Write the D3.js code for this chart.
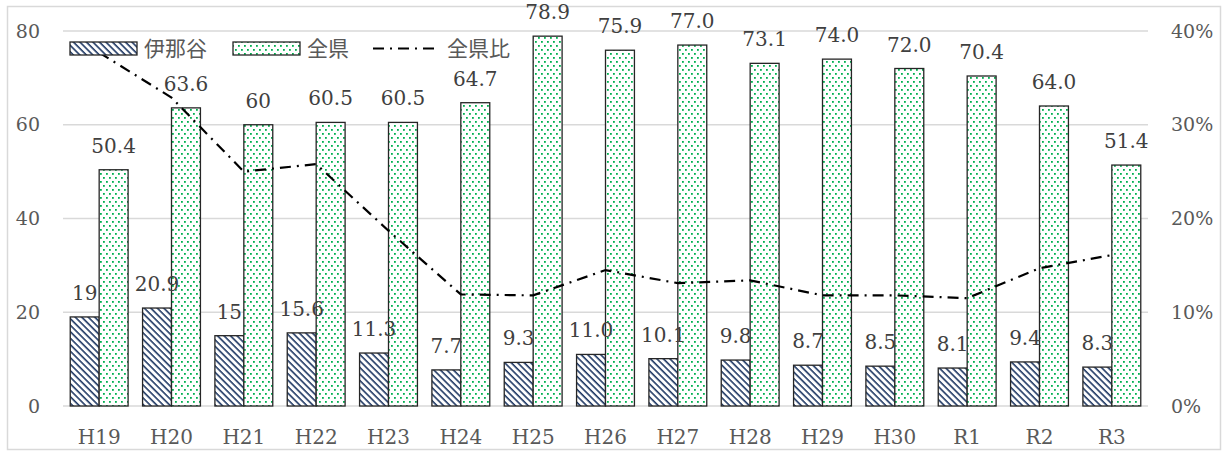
<!DOCTYPE html>
<html><head><meta charset="utf-8">
<script src="https://cdn.jsdelivr.net/npm/d3@7"></script>
<style>
html,body{margin:0;padding:0;background:#fff;}
svg text{font-family:"DejaVu Serif","Noto Sans CJK JP",serif;}
</style></head>
<body><svg id="c" width="1228" height="456"></svg>
<script>
const categories = ["H19","H20","H21","H22","H23","H24","H25","H26","H27","H28","H29","H30","R1","R2","R3"];
const inaValues = [19,20.9,15,15.6,11.3,7.7,9.3,11.0,10.1,9.8,8.7,8.5,8.1,9.4,8.3];
const inaLabels = ["19","20.9","15","15.6","11.3","7.7","9.3","11.0","10.1","9.8","8.7","8.5","8.1","9.4","8.3"];
const kenValues = [50.4,63.6,60,60.5,60.5,64.7,78.9,75.9,77.0,73.1,74.0,72.0,70.4,64.0,51.4];
const kenLabels = ["50.4","63.6","60","60.5","60.5","64.7","78.9","75.9","77.0","73.1","74.0","72.0","70.4","64.0","51.4"];
const ratioValues = [0.377,0.329,0.250,0.258,0.187,0.119,0.118,0.145,0.131,0.134,0.118,0.118,0.115,0.147,0.161];
const leftTicks = [0,20,40,60,80];
const rightTicks = [0,0.1,0.2,0.3,0.4];
const seriesNames = ["伊那谷","全県","全県比"];

const svg = d3.select("#c");
const M = {left:63, right:1148, top:31, bottom:406};

svg.append("rect").attr("x",7.5).attr("y",6.5).attr("width",1213).attr("height",443)
  .attr("fill","#fff").attr("stroke","#d9d9d9").attr("stroke-width",1.5);

const defs = svg.append("defs");
const hp = defs.append("pattern").attr("id","hatch").attr("patternUnits","userSpaceOnUse")
  .attr("width",6).attr("height",4.6).attr("patternTransform","rotate(45)");
hp.append("rect").attr("width",6).attr("height",4.6).attr("fill","#fff");
hp.append("rect").attr("y",0).attr("width",6).attr("height",1.6).attr("fill","#1F3864");
const dp = defs.append("pattern").attr("id","dots").attr("patternUnits","userSpaceOnUse")
  .attr("width",6).attr("height",8);
dp.append("rect").attr("width",6).attr("height",8).attr("fill","#fff");
dp.append("rect").attr("x",1).attr("y",1).attr("width",1.8).attr("height",1.8).attr("fill","#00B050");
dp.append("rect").attr("x",4).attr("y",5).attr("width",1.8).attr("height",1.8).attr("fill","#00B050");

const x0 = d3.scaleBand().domain(categories).range([M.left,M.right]).padding(0);
const groupW = x0.bandwidth()*0.8;
const x1 = d3.scaleBand().domain(["ina","ken"]).range([0,groupW]);
const y = d3.scaleLinear().domain([0,80]).range([M.bottom,M.top]);
const y2 = d3.scaleLinear().domain([0,0.4]).range([M.bottom,M.top]);

svg.append("g").selectAll("line").data(leftTicks).join("line")
  .attr("x1",M.left).attr("x2",M.right).attr("y1",d=>y(d)).attr("y2",d=>y(d))
  .attr("stroke","#d9d9d9").attr("stroke-width",1.5);

const ax = svg.append("g").attr("transform",`translate(${M.left},0)`)
  .call(d3.axisLeft(y).tickValues(leftTicks).tickSize(0).tickPadding(23));
ax.select(".domain").remove();
ax.selectAll("text").attr("fill","#595959").style("font-size","19px");

const ax2 = svg.append("g").attr("transform",`translate(${M.right},0)`)
  .call(d3.axisRight(y2).tickValues(rightTicks).tickSize(0).tickPadding(23).tickFormat(d3.format(".0%")));
ax2.select(".domain").remove();
ax2.selectAll("text").attr("fill","#595959").style("font-size","19px");

const ax3 = svg.append("g").attr("transform",`translate(0,${M.bottom})`)
  .call(d3.axisBottom(x0).tickSize(0).tickPadding(24));
ax3.select(".domain").remove();
ax3.selectAll("text").attr("fill","#595959").style("font-size","20px");

const off = (x0.bandwidth()-groupW)/2;
const g = svg.append("g");
g.selectAll("rect.ina").data(inaValues).join("rect").attr("class","ina")
  .attr("x",(d,i)=>x0(categories[i])+off+x1("ina")).attr("width",x1.bandwidth())
  .attr("y",d=>y(d)).attr("height",d=>y(0)-y(d))
  .attr("fill","url(#hatch)").attr("stroke","#262626").attr("stroke-width",1.3);
g.selectAll("rect.ken").data(kenValues).join("rect").attr("class","ken")
  .attr("x",(d,i)=>x0(categories[i])+off+x1("ken")).attr("width",x1.bandwidth())
  .attr("y",d=>y(d)).attr("height",d=>y(0)-y(d))
  .attr("fill","url(#dots)").attr("stroke","#262626").attr("stroke-width",1.3);

const line = d3.line().x((d,i)=>x0(categories[i])+x0.bandwidth()/2).y(d=>y2(d));
svg.append("path").datum(ratioValues).attr("d",line).attr("fill","none")
  .attr("stroke","#000").attr("stroke-width",2.2).attr("stroke-dasharray","11,6,2,6");

svg.append("g").selectAll("text").data(inaLabels).join("text")
  .attr("x",(d,i)=>x0(categories[i])+off+x1("ina")+x1.bandwidth()/2)
  .attr("y",(d,i)=>y(inaValues[i])-17).attr("text-anchor","middle")
  .attr("fill","#404040").style("font-size","20px").text(d=>d);
svg.append("g").selectAll("text").data(kenLabels).join("text")
  .attr("x",(d,i)=>x0(categories[i])+off+x1("ken")+x1.bandwidth()/2)
  .attr("y",(d,i)=>y(kenValues[i])-17).attr("text-anchor","middle")
  .attr("fill","#404040").style("font-size","20px").text(d=>d);

const lg = svg.append("g");
lg.append("rect").attr("x",70).attr("y",42).attr("width",67).attr("height",13)
  .attr("fill","url(#hatch)").attr("stroke","#262626").attr("stroke-width",1.3);
lg.append("text").attr("x",144).attr("y",56).attr("fill","#595959").style("font-size","21px").text(seriesNames[0]);
lg.append("rect").attr("x",233).attr("y",42).attr("width",67).attr("height",13)
  .attr("fill","url(#dots)").attr("stroke","#262626").attr("stroke-width",1.3);
lg.append("text").attr("x",307).attr("y",56).attr("fill","#595959").style("font-size","21px").text(seriesNames[1]);
lg.append("line").attr("x1",373).attr("x2",440).attr("y1",48.5).attr("y2",48.5)
  .attr("stroke","#000").attr("stroke-width",2.2).attr("stroke-dasharray","11,6,2,6");
lg.append("text").attr("x",447).attr("y",56).attr("fill","#595959").style("font-size","21px").text(seriesNames[2]);
</script></body></html>
